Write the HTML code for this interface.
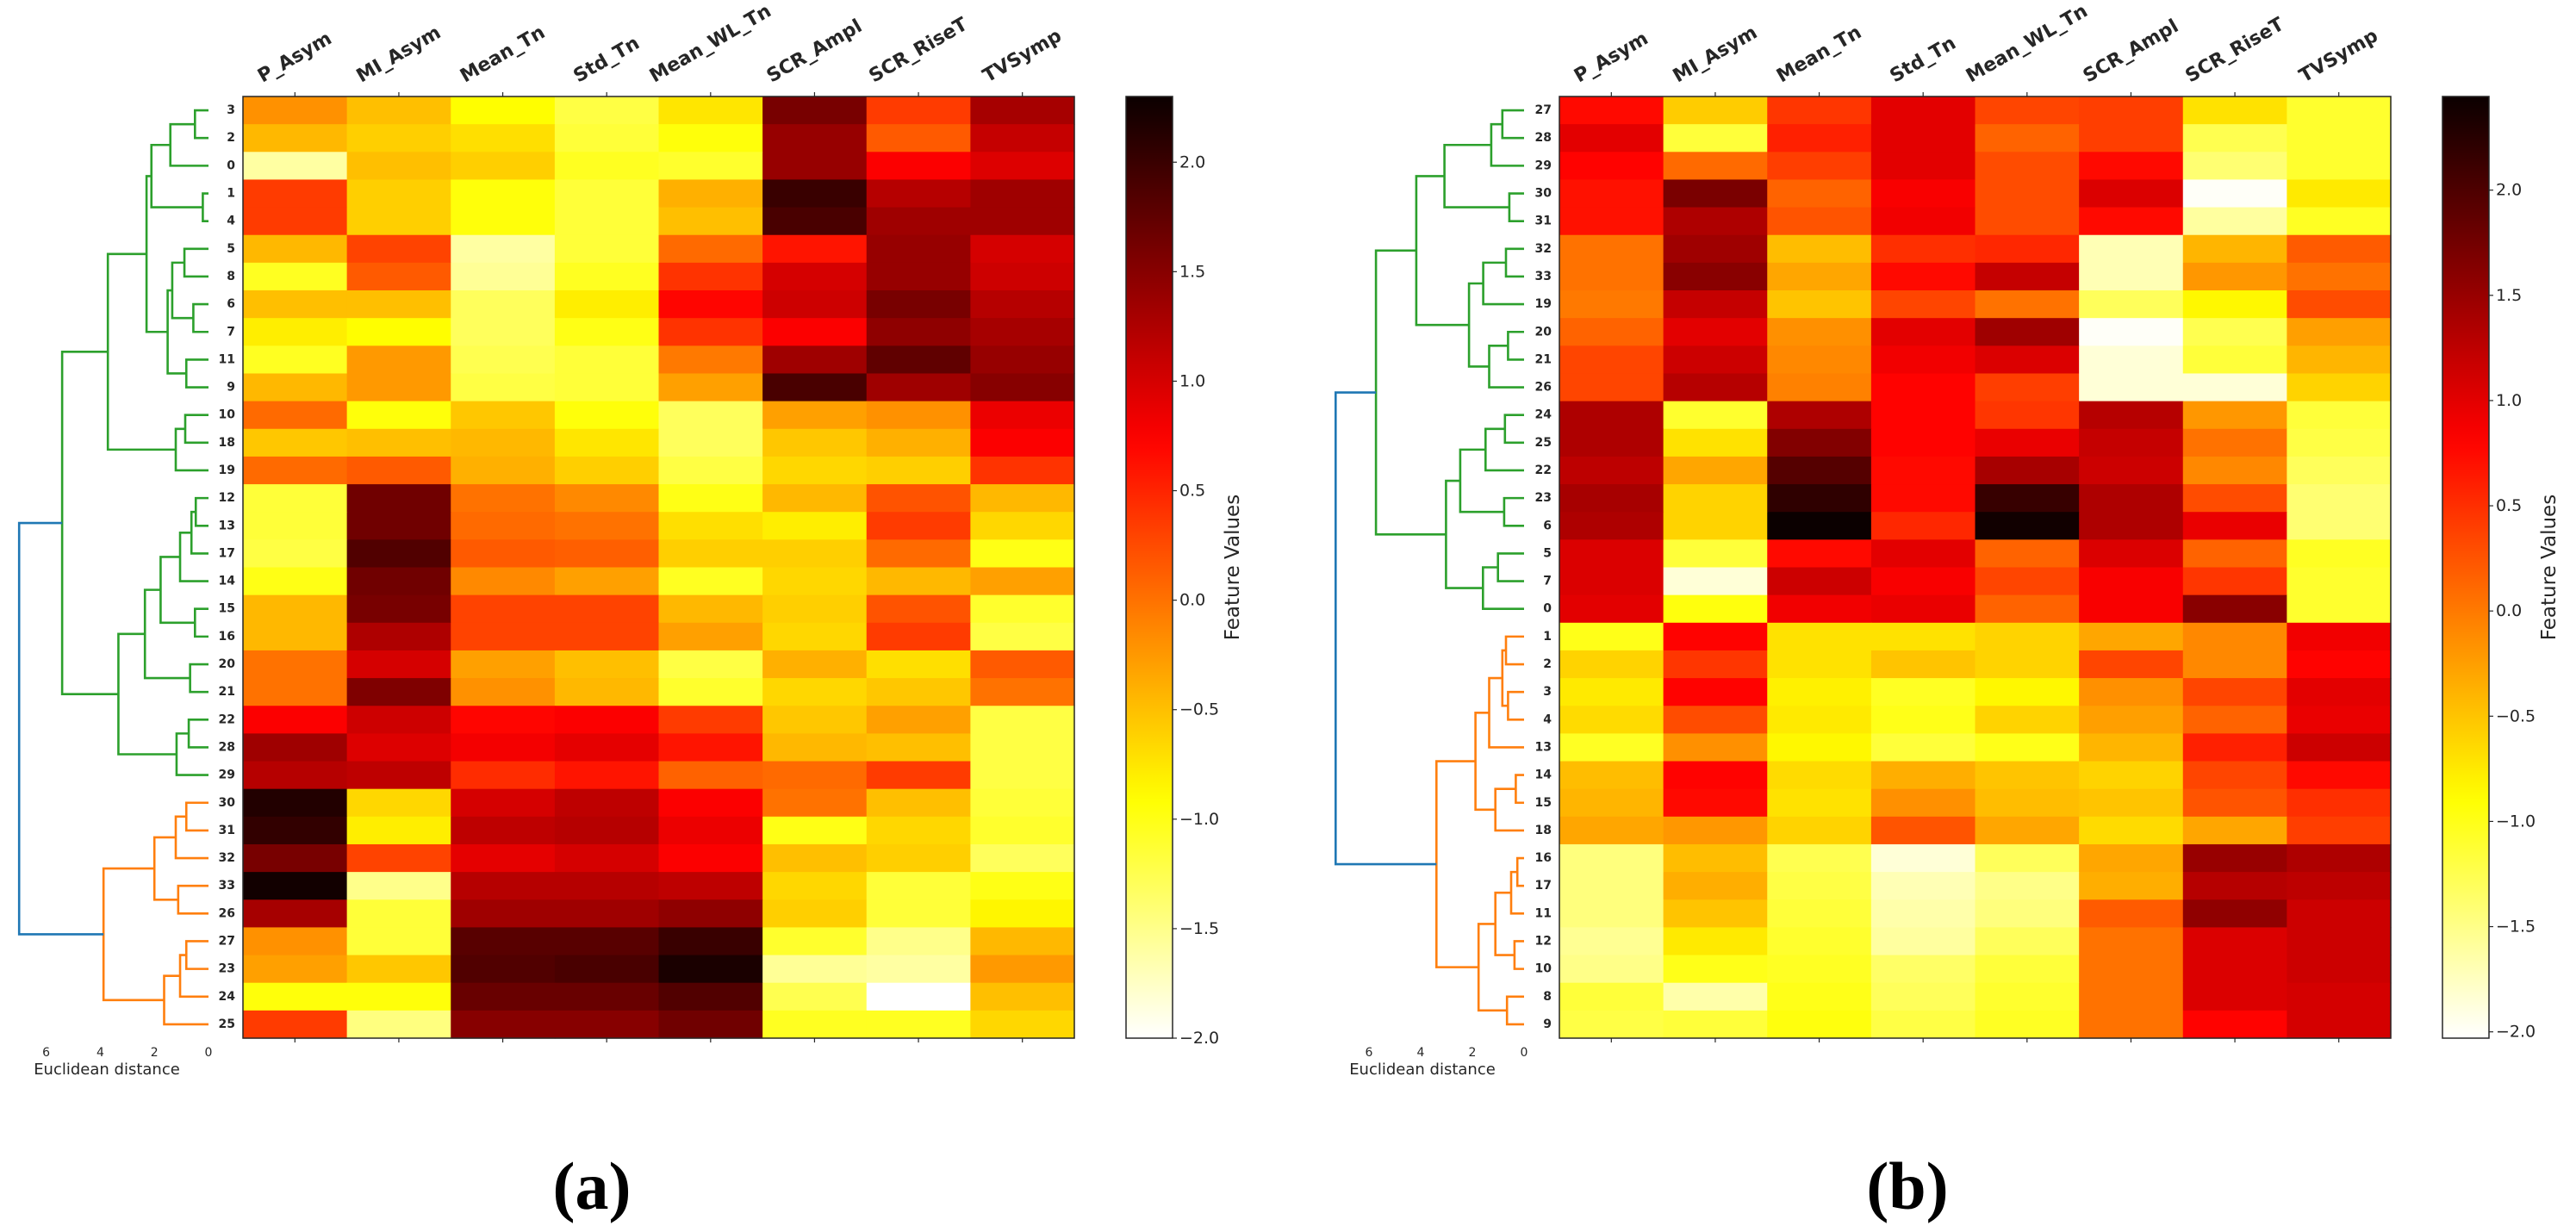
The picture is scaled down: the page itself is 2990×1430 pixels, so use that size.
<!DOCTYPE html>
<html><head><meta charset="utf-8">
<style>
html,body{margin:0;padding:0;background:#fff;}
svg{display:block;}
</style></head>
<body>
<svg id="fig" xmlns="http://www.w3.org/2000/svg" width="2990" height="1430" viewBox="0 0 2990 1430">
<rect x="0" y="0" width="2990" height="1430" fill="#fff"/>
</svg>
<script>
const columnLabels = ["P_Asym","MI_Asym","Mean_Tn","Std_Tn","Mean_WL_Tn","SCR_Ampl","SCR_RiseT","TVSymp"];
const colorbarTicks = [-2.0,-1.5,-1.0,-0.5,0.0,0.5,1.0,1.5,2.0];

const rowLabelsA = ["3","2","0","1","4","5","8","6","7","11","9","10","18","19","12","13","17","14","15","16","20","21","22","28","29","30","31","32","33","26","27","23","24","25"];
const valuesA = [
[-0.2,-0.5,-0.9,-1.2,-0.75,1.6,0.35,1.3],
[-0.45,-0.6,-0.7,-1.15,-0.95,1.4,0.15,1.1],
[-1.6,-0.5,-0.6,-1.05,-1.1,1.4,0.75,0.95],
[0.35,-0.6,-0.95,-1.15,-0.4,2.0,1.2,1.35],
[0.35,-0.6,-0.95,-1.15,-0.5,1.9,1.35,1.35],
[-0.45,0.3,-1.6,-1.15,0.05,0.6,1.4,1.0],
[-1.05,0.15,-1.55,-1.05,0.4,1.0,1.4,1.05],
[-0.5,-0.5,-1.3,-0.8,0.7,1.05,1.6,1.2],
[-0.8,-0.9,-1.3,-1.0,0.4,0.75,1.45,1.3],
[-1.05,-0.25,-1.25,-1.15,-0.05,1.35,1.75,1.4],
[-0.45,-0.25,-1.2,-1.15,-0.3,1.9,1.35,1.5],
[0.05,-0.95,-0.55,-0.95,-1.3,-0.3,-0.2,0.85],
[-0.55,-0.5,-0.45,-0.75,-1.3,-0.55,-0.4,0.75],
[0.05,0.15,-0.4,-0.6,-1.2,-0.65,-0.6,0.4],
[-1.15,1.65,0.0,-0.15,-1.0,-0.45,0.2,-0.45],
[-1.15,1.65,0.05,0.0,-0.7,-0.8,0.35,-0.65],
[-1.2,1.85,0.15,0.12,-0.6,-0.6,0.05,-1.0],
[-1.0,1.65,-0.15,-0.3,-1.05,-0.65,-0.45,-0.3],
[-0.45,1.6,0.3,0.3,-0.45,-0.6,0.2,-1.1],
[-0.45,1.25,0.3,0.3,-0.3,-0.65,0.35,-1.2],
[0.0,1.0,-0.3,-0.5,-1.2,-0.4,-0.7,0.15],
[0.0,1.55,-0.2,-0.45,-1.1,-0.65,-0.55,0.0],
[0.75,1.05,0.7,0.75,0.35,-0.55,-0.3,-1.2],
[1.35,0.95,0.8,0.9,0.6,-0.45,-0.5,-1.2],
[1.2,1.15,0.45,0.6,0.1,0.05,0.35,-1.2],
[2.15,-0.65,1.0,1.15,0.75,0.0,-0.5,-1.15],
[2.05,-0.8,1.15,1.2,0.85,-1.0,-0.65,-1.1],
[1.6,0.3,0.9,1.0,0.75,-0.5,-0.6,-1.3],
[2.25,-1.5,1.2,1.2,1.15,-0.65,-1.15,-1.0],
[1.3,-1.15,1.35,1.35,1.45,-0.6,-1.15,-0.85],
[-0.2,-1.15,1.8,1.8,2.0,-1.1,-1.5,-0.45],
[-0.3,-0.55,1.85,1.9,2.2,-1.55,-1.6,-0.25],
[-0.95,-0.95,1.7,1.7,1.85,-1.25,-2.0,-0.5],
[0.35,-1.45,1.5,1.5,1.65,-1.05,-1.05,-0.65]
];
const mergesA = [
[0,1,0.50],[34,2,1.41],[3,4,0.21],[35,36,2.11],[5,6,0.89],[7,8,0.56],[38,39,1.34],[9,10,0.82],[40,41,1.51],[37,42,2.29],
[11,12,0.86],[44,13,1.21],[43,45,3.72],[14,15,0.47],[47,16,0.63],[48,17,1.05],[18,19,0.50],[49,50,1.77],[20,21,0.68],[51,52,2.35],
[22,23,0.73],[54,24,1.18],[53,55,3.33],[46,56,5.41],[25,26,0.82],[58,27,1.21],[28,29,1.12],[59,60,2.0],[30,31,0.82],[62,32,1.05],
[63,33,1.64],[61,64,3.88],[57,65,7.0]
];
const mergeColorsA = ["g","g","g","g","g","g","g","g","g","g","g","g","g","g","g","g","g","g","g","g","g","g","g","g","o","o","o","o","o","o","o","o","b"];

const rowLabelsB = ["27","28","29","30","31","32","33","19","20","21","26","24","25","22","23","6","5","7","0","1","2","3","4","13","14","15","18","16","17","11","12","10","8","9"];
const valuesB = [
[0.75,-0.55,0.45,1.0,0.35,0.4,-0.7,-1.1],
[1.0,-1.15,0.6,1.0,0.15,0.4,-1.25,-1.1],
[0.8,0.1,0.4,1.0,0.3,0.75,-1.4,-1.1],
[0.7,1.7,0.15,0.85,0.3,1.05,-2.0,-0.75],
[0.7,1.35,0.25,0.9,0.3,0.75,-1.6,-1.05],
[0.05,1.45,-0.45,0.5,0.55,-1.7,-0.4,0.2],
[0.05,1.6,-0.3,0.75,1.2,-1.7,-0.2,0.05],
[0.0,1.2,-0.5,0.35,0.05,-1.3,-0.85,0.3],
[0.15,1.0,-0.15,1.0,1.45,-2.0,-1.25,-0.25],
[0.35,1.15,-0.1,0.9,1.05,-1.85,-1.15,-0.4],
[0.35,1.3,-0.05,0.8,0.4,-1.85,-1.85,-0.6],
[1.35,-1.1,1.35,0.8,0.45,1.3,-0.2,-1.15],
[1.35,-0.7,1.65,0.8,0.95,1.2,0.05,-1.2],
[1.25,-0.3,1.95,0.75,1.4,1.15,-0.1,-1.3],
[1.4,-0.6,2.2,0.75,2.15,1.35,0.3,-1.4],
[1.35,-0.6,2.45,0.55,2.4,1.35,0.95,-1.4],
[1.05,-1.15,0.75,1.0,0.15,1.05,0.15,-1.05],
[1.05,-1.85,1.15,0.85,0.35,0.85,0.45,-1.1],
[1.0,-0.95,0.9,0.95,0.15,0.85,1.6,-1.1],
[-1.0,0.8,-0.7,-0.7,-0.6,-0.3,-0.1,0.9],
[-0.6,0.45,-0.7,-0.5,-0.6,0.35,-0.1,0.8],
[-0.75,0.8,-0.8,-1.05,-0.85,-0.15,0.35,1.0],
[-0.65,0.3,-0.75,-1.0,-0.6,-0.25,0.15,0.95],
[-1.05,-0.15,-0.85,-1.15,-1.0,-0.4,0.6,1.15],
[-0.45,0.8,-0.65,-0.35,-0.5,-0.6,0.35,0.75],
[-0.4,0.75,-0.7,-0.15,-0.45,-0.5,0.25,0.5],
[-0.3,-0.2,-0.6,0.25,-0.3,-0.65,-0.3,0.4],
[-1.45,-0.45,-1.25,-1.85,-1.3,-0.3,1.5,1.35],
[-1.45,-0.35,-1.2,-1.7,-1.5,-0.35,1.3,1.25],
[-1.45,-0.5,-1.15,-1.65,-1.45,0.2,1.55,1.15],
[-1.55,-0.75,-1.1,-1.6,-1.3,0.05,1.05,1.15],
[-1.5,-1.0,-1.05,-1.35,-1.15,0.05,1.05,1.15],
[-1.15,-1.65,-1.0,-1.3,-1.1,0.05,1.05,1.1],
[-1.2,-1.15,-0.95,-1.2,-1.05,0.05,0.8,1.1]
];
const mergesB = [
[0,1,0.84],[34,2,1.27],[3,4,0.57],[35,36,3.08],[5,6,0.70],[38,7,1.58],[8,9,0.62],[40,10,1.35],[39,41,2.13],[37,42,4.17],
[11,12,0.74],[44,13,1.49],[14,15,0.77],[45,46,2.47],[16,17,1.01],[48,18,1.59],[47,49,3.02],[43,50,5.73],
[19,20,0.70],[21,22,0.62],[52,53,0.84],[54,23,1.35],[24,25,0.32],[56,26,1.11],[55,57,1.88],[27,28,0.26],[59,29,0.50],[30,31,0.37],
[60,61,1.11],[32,33,0.66],[62,63,1.76],[58,64,3.39],[51,65,7.29]
];
const mergeColorsB = ["g","g","g","g","g","g","g","g","g","g","g","g","g","g","g","g","g","g","o","o","o","o","o","o","o","o","o","o","o","o","o","o","b"];

const NS = "http://www.w3.org/2000/svg";
const svg = document.getElementById("fig");
const LINE = {g:"#2ca02c", o:"#ff7f0e", b:"#1f77b4"};
const TXT = "#262626";
function mk(tag, attrs, parent){ const e=document.createElementNS(NS,tag); for(const k in attrs) e.setAttribute(k,attrs[k]); (parent||svg).appendChild(e); return e; }
function clamp(v){return Math.max(0,Math.min(1,v));}
function hotR(t){
  const x = 1 - clamp(t);
  const r = clamp(0.0416 + x*(1-0.0416)/0.365079);
  const g = clamp((x-0.365079)/(0.746032-0.365079));
  const b = clamp((x-0.746032)/(1-0.746032));
  return "rgb("+Math.round(r*255)+","+Math.round(g*255)+","+Math.round(b*255)+")";
}

function panel(cfg){
  const g = mk("g",{});
  
  
  const nR = cfg.rows.length, nC = columnLabels.length;
  const rowH = cfg.h/nR, colW = cfg.w/nC;
  const xCol = c => cfg.x + c*colW;
  const yRow = r => cfg.y + r*rowH;
  const tOf = v => (v - cfg.vmin)/(cfg.vmax - cfg.vmin);
  // cells
  const cells = mk("g",{},g);
  
  
  cfg.vals.forEach((row,r)=>row.forEach((v,c)=>{
    const rc = mk("rect",{x:xCol(c),y:yRow(r),width:colW+0.6,height:rowH+0.6,fill:hotR(tOf(v))},cells);
    
    
  }));
  const fr = mk("rect",{x:cfg.x,y:cfg.y,width:cfg.w,height:cfg.h,fill:"none",stroke:TXT,"stroke-width":1.5},g);
  
  
  // column ticks & labels
  columnLabels.forEach((lab,c)=>{
    const cx = xCol(c)+colW/2;
    mk("line",{x1:cx,y1:cfg.y,x2:cx,y2:cfg.y-5,stroke:TXT,"stroke-width":1.2},g);
    mk("line",{x1:cx,y1:cfg.y+cfg.h,x2:cx,y2:cfg.y+cfg.h+5,stroke:TXT,"stroke-width":1.2},g);
    const t = mk("text",{x:0,y:0,"text-anchor":"middle","dominant-baseline":"central","font-family":"DejaVu Sans, Liberation Sans, sans-serif","font-weight":"bold","font-size":22,fill:TXT},g);
    t.textContent = lab;
    
    
    const L = t.getComputedTextLength();
    const cy = cfg.y - 12 - (L/2*0.5 + 11*0.866);
    t.setAttribute("transform","translate("+cx+","+cy+") rotate(-30)");
  });
  // row labels
  cfg.rows.forEach((lab,r)=>{
    const t = mk("text",{x:cfg.x-9,y:yRow(r)+rowH/2,"text-anchor":"end","dominant-baseline":"central","font-family":"DejaVu Sans, Liberation Sans, sans-serif","font-weight":"bold","font-size":14,fill:TXT},g);
    t.textContent = lab;
    
    
  });
  // dendrogram
  const dx = d => cfg.d0 - d*cfg.dScale;
  const posY = [], hgt = [];
  for(let i=0;i<nR;i++){ posY.push(yRow(i)+rowH/2); hgt.push(0); }
  cfg.merges.forEach((m,k)=>{
    const [a,b,h] = m;
    const ya = posY[a], yb = posY[b];
    const p = mk("polyline",{points:[dx(hgt[a]),ya,dx(h),ya,dx(h),yb,dx(hgt[b]),yb].join(" "),fill:"none",stroke:LINE[cfg.mcol[k]],"stroke-width":2.6},g);
    
    
    posY.push((ya+yb)/2); hgt.push(h);
  });
  [0,2,4,6].forEach(d=>{
    const t = mk("text",{x:dx(d),y:1226,"text-anchor":"middle","font-family":"DejaVu Sans, Liberation Sans, sans-serif","font-size":14,fill:TXT},g);
    t.textContent = String(d);
    
    
  });
  const et = mk("text",{x:cfg.d0-118,y:1247,"text-anchor":"middle","font-family":"DejaVu Sans, Liberation Sans, sans-serif","font-size":18,fill:TXT},g);
  et.textContent = "Euclidean distance";
  
  
  // colorbar
  const gid = "grad_"+cfg.id;
  const defs = mk("defs",{},g);
  const lg = mk("linearGradient",{id:gid,x1:0,y1:1,x2:0,y2:0},defs);
  for(let i=0;i<=40;i++){ mk("stop",{offset:(i/40),"stop-color":hotR(i/40)},lg); }
  const cb = mk("rect",{x:cfg.cbx,y:cfg.y,width:54,height:cfg.h,fill:"url(#"+gid+")",stroke:TXT,"stroke-width":1.5},g);
  
  
  colorbarTicks.forEach(v=>{
    const yy = cfg.y + cfg.h - tOf(v)*cfg.h;
    mk("line",{x1:cfg.cbx+54,y1:yy,x2:cfg.cbx+59,y2:yy,stroke:TXT,"stroke-width":1.2},g);
    const t = mk("text",{x:cfg.cbx+62,y:yy,"dominant-baseline":"central","font-family":"DejaVu Sans, Liberation Sans, sans-serif","font-size":19,fill:TXT},g);
    t.textContent = (v<0?"\u2212":"")+Math.abs(v).toFixed(1);
    
    
  });
  const ft = mk("text",{x:0,y:0,"text-anchor":"middle","dominant-baseline":"central","font-family":"DejaVu Sans, Liberation Sans, sans-serif","font-size":23,fill:TXT,transform:"translate("+(cfg.cbx+124)+","+(cfg.y+cfg.h/2)+") rotate(-90)"},g);
  ft.textContent = "Feature Values";
  
  
  const pl = mk("text",{x:cfg.capX,y:1403,"text-anchor":"middle","font-family":"Liberation Serif, serif","font-weight":"bold","font-size":78,fill:"#000"},g);
  pl.textContent = cfg.caption;
  
  
}

panel({id:"panel-a",x:282,y:112,w:965,h:1093,vmin:-2.0,vmax:2.30,rows:rowLabelsA,vals:valuesA,merges:mergesA,mcol:mergeColorsA,d0:242,dScale:31.4,cbx:1307,capX:687,caption:"(a)"});
panel({id:"panel-b",x:1810,y:112,w:965,h:1093,vmin:-2.03,vmax:2.445,rows:rowLabelsB,vals:valuesB,merges:mergesB,mcol:mergeColorsB,d0:1769,dScale:30.0,cbx:2835,capX:2214,caption:"(b)"});
</script>
</body></html>
